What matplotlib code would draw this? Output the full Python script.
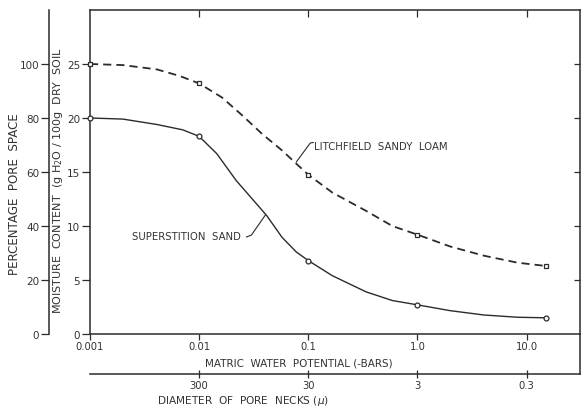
import matplotlib
matplotlib.use("Agg")
import matplotlib.pyplot as plt
import numpy as np

# ---- data ----
bars_pts = [0.001, 0.01, 0.1, 1.0, 15.0]
loam_pts = [25.0, 23.2, 14.75, 9.2, 6.3]
sand_pts = [20.0, 18.3, 6.8, 2.7, 1.5]

# traced curve shapes
loam_curve_bars = [0.001, 0.002, 0.0041, 0.0066, 0.01, 0.0162, 0.0251, 0.038,
                   0.0575, 0.079, 0.1, 0.166, 0.339, 0.589, 1.0, 2.0, 4.07, 8.3, 15.0]
loam_curve = [25.0, 24.9, 24.5, 23.9, 23.2, 21.9, 20.2, 18.5,
              17.0, 15.7, 14.75, 13.1, 11.4, 10.0, 9.2, 8.1, 7.25, 6.6, 6.3]
sand_curve_bars = [0.001, 0.002, 0.0041, 0.0071, 0.01, 0.0145, 0.0219, 0.0339,
                   0.0417, 0.0575, 0.0776, 0.1, 0.166, 0.339, 0.589, 1.0, 2.0, 4.07, 8.3, 15.0]
sand_curve = [20.0, 19.9, 19.4, 18.9, 18.3, 16.7, 14.2, 12.0,
              10.95, 8.95, 7.6, 6.8, 5.4, 3.9, 3.1, 2.7, 2.16, 1.76, 1.55, 1.5]

potential_ticks = [0.001, 0.01, 0.1, 1.0, 10.0]
potential_labels = ["0.001", "0.01", "0.1", "1.0", "10.0"]
moisture_ticks = [0, 5, 10, 15, 20, 25]
pore_space_ticks = [0, 20, 40, 60, 80, 100]
pore_diam = [300, 30, 3, 0.3]
pore_diam_labels = ["300", "30", "3", "0.3"]

INK = "#2b2b2b"
TXT = "#333333"
W, H = 582, 410

def fx(px):
    return px / W

def fy(py):
    return 1 - py / H

plt.rcParams["font.family"] = ["DejaVu Sans"]
fig = plt.figure(figsize=(W / 100, H / 100), dpi=100)

L, R, T, B = 90, 580, 11, 335
ax = fig.add_axes([fx(L), fy(B), fx(R - L), (B - T) / H])
ax.set_xscale("log")
ax.set_xlim(0.001, 10 ** 1.49)
ax.set_ylim(0, 30)

ax.plot(loam_curve_bars, loam_curve, color=INK, lw=1.3, linestyle=(0, (4.5, 2.8)))
ax.plot(sand_curve_bars, sand_curve, color=INK, lw=1.0)
ax.plot(bars_pts, loam_pts, linestyle="none", marker="s", ms=3.5,
        mfc="white", mec=INK, mew=0.9, clip_on=False, zorder=5)
ax.plot(bars_pts, sand_pts, linestyle="none", marker="o", ms=3.5,
        mfc="white", mec=INK, mew=0.9, clip_on=False, zorder=5)

for s in ax.spines.values():
    s.set_color(INK)
    s.set_linewidth(1.1)

ax.set_xticks(potential_ticks)
ax.set_xticklabels(potential_labels)
ax.xaxis.set_minor_locator(matplotlib.ticker.NullLocator())
ax.set_yticks(moisture_ticks)
ax.set_yticklabels([str(v) for v in moisture_ticks])
ax.tick_params(axis="x", which="major", direction="out", length=4, width=0.9,
               color=INK, labelsize=7.2, labelcolor=TXT, pad=1)
ax.tick_params(axis="y", which="major", direction="out", length=6, width=0.9,
               color=INK, labelsize=7.5, labelcolor=TXT, pad=1)

# inward ticks on top and right
axt = ax.secondary_xaxis("top")
axt.set_xticks(potential_ticks[1:])
axt.xaxis.set_minor_locator(matplotlib.ticker.NullLocator())
axt.tick_params(direction="in", length=5, width=0.9, color=INK, labeltop=False)
axt.spines["top"].set_visible(False)
axr = ax.secondary_yaxis("right")
axr.set_yticks(moisture_ticks[1:])
axr.tick_params(direction="in", length=4, width=0.9, color=INK, labelright=False)
axr.spines["right"].set_visible(False)

# curve labels with leaders
ax.text(10 ** (-3 + (315 - L) / 109.5), (B - 147) / 10.8, "LITCHFIELD  SANDY  LOAM",
        fontsize=7.3, color=TXT, va="center", ha="left")
ax.plot([10 ** (-3 + (297 - L) / 109.5), 10 ** (-3 + (311 - L) / 109.5),
         10 ** (-3 + (314 - L) / 109.5)],
        [(B - 163) / 10.8, (B - 144) / 10.8, (B - 143.5) / 10.8],
        color=INK, lw=0.8)
ax.text(10 ** (-3 + (132 - L) / 109.5), (B - 237) / 10.8, "SUPERSTITION  SAND",
        fontsize=7.3, color=TXT, va="center", ha="left")
ax.plot([10 ** (-3 + (247 - L) / 109.5), 10 ** (-3 + (252 - L) / 109.5),
         10 ** (-3 + (266 - L) / 109.5)],
        [(B - 238) / 10.8, (B - 236) / 10.8, (B - 216) / 10.8],
        color=INK, lw=0.8)

# outer left axis: percentage pore space
axo = fig.add_axes([fx(49), fy(B), 0.001, (B - T) / H])
axo.set_ylim(0, 120)
axo.set_yticks(pore_space_ticks)
axo.set_yticklabels([str(v) for v in pore_space_ticks])
axo.set_xticks([])
for k in ("top", "right", "bottom"):
    axo.spines[k].set_visible(False)
axo.spines["left"].set_color(INK)
axo.spines["left"].set_linewidth(1.1)
axo.patch.set_visible(False)
axo.tick_params(axis="y", direction="out", length=6, width=0.9, color=INK,
                labelsize=7.5, labelcolor=TXT, pad=1)

# second bottom axis: diameter of pore necks
D = 375
axd = fig.add_axes([fx(L), fy(D), fx(R - L), (D - B) / H])
axd.set_xscale("log")
axd.set_xlim(ax.get_xlim())
axd.set_ylim(0, 1)
axd.set_yticks([])
axd.set_xticks([3.0 / d for d in pore_diam])
axd.set_xticklabels(pore_diam_labels)
axd.xaxis.set_minor_locator(matplotlib.ticker.NullLocator())
for k in ("top", "left"):
    axd.spines[k].set_visible(False)
for k in ("bottom", "right"):
    axd.spines[k].set_color(INK)
    axd.spines[k].set_linewidth(1.1)
axd.patch.set_visible(False)
axd.tick_params(axis="x", direction="inout", length=6, width=0.9, color=INK,
                labelsize=7.2, labelcolor=TXT, pad=1)

# axis titles
fig.text(fx(15), fy(194), "PERCENTAGE  PORE  SPACE", rotation=90, fontsize=8.6,
         color=TXT, ha="center", va="center")
fig.text(fx(58), fy(180), "MOISTURE  CONTENT  (g H$_2$O / 100g  DRY  SOIL",
         rotation=90, fontsize=8.0, color=TXT, ha="center", va="center")
fig.text(fx(299), fy(364), "MATRIC  WATER  POTENTIAL (-BARS)", fontsize=7.5,
         color=TXT, ha="center", va="center")
fig.text(fx(243), fy(401), "DIAMETER  OF  PORE  NECKS ($\\mu$)", fontsize=7.6,
         color=TXT, ha="center", va="center")

fig.savefig("out.png", dpi=100, facecolor="white")
